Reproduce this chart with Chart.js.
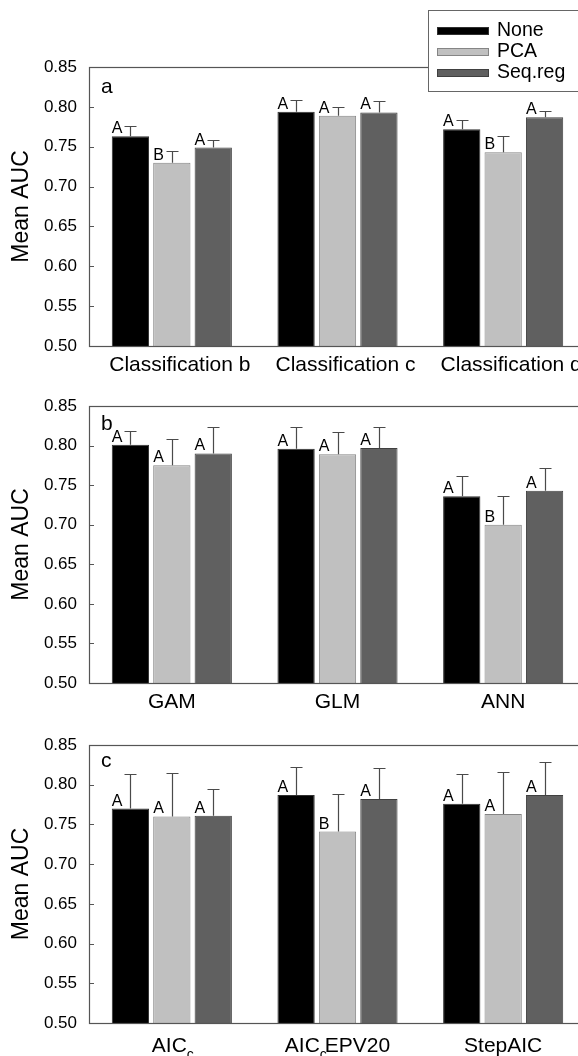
<!DOCTYPE html>
<html>
<head>
<meta charset="utf-8">
<script src="https://cdn.jsdelivr.net/npm/chart.js@4.4.0/dist/chart.umd.min.js"></script>
<style>
html, body { margin: 0; padding: 0; background: #fff; overflow: hidden; width: 578px; height: 1056px; }
canvas { position: absolute; left: 0; }
</style>
</head>
<body>
<canvas id="chartA" width="600" height="382" style="top:0px"></canvas>
<canvas id="chartB" width="600" height="337" style="top:382px"></canvas>
<canvas id="chartC" width="600" height="340" style="top:719px"></canvas>
<script>
var seriesNames = ['None', 'PCA', 'Seq.reg'];
var fillColors = ['#000000', '#c0c0c0', '#606060'];
var edgeColors = ['#303030', '#858585', '#404040'];
var yTicks = [0.50, 0.55, 0.60, 0.65, 0.70, 0.75, 0.80, 0.85];

// panel a
var categoriesA = ['Classification b', 'Classification c', 'Classification d'];
var meanA_none = [0.763, 0.794, 0.772];
var meanA_pca = [0.730, 0.789, 0.743];
var meanA_seq = [0.749, 0.793, 0.787];
var errA_none = [0.776, 0.808, 0.783];
var errA_pca = [0.744, 0.800, 0.763];
var errA_seq = [0.759, 0.807, 0.795];
var lettersA_none = ['A', 'A', 'A'];
var lettersA_pca = ['B', 'A', 'B'];
var lettersA_seq = ['A', 'A', 'A'];

// panel b
var categoriesB = ['GAM', 'GLM', 'ANN'];
var meanB_none = [0.801, 0.796, 0.736];
var meanB_pca = [0.775, 0.789, 0.700];
var meanB_seq = [0.790, 0.797, 0.743];
var errB_none = [0.818, 0.824, 0.761];
var errB_pca = [0.808, 0.817, 0.736];
var errB_seq = [0.823, 0.824, 0.772];
var lettersB_none = ['A', 'A', 'A'];
var lettersB_pca = ['A', 'A', 'B'];
var lettersB_seq = ['A', 'A', 'A'];

// panel c  ("_" marks a subscript letter)
var categoriesC = ['AIC_c', 'AIC_cEPV20', 'StepAIC'];
var meanC_none = [0.770, 0.787, 0.776];
var meanC_pca = [0.760, 0.741, 0.763];
var meanC_seq = [0.761, 0.782, 0.787];
var errC_none = [0.814, 0.822, 0.813];
var errC_pca = [0.815, 0.788, 0.816];
var errC_seq = [0.794, 0.821, 0.829];
var lettersC_none = ['A', 'A', 'A'];
var lettersC_pca = ['A', 'B', 'A'];
var lettersC_seq = ['A', 'A', 'A'];

var FONT = '"Liberation Sans", Arial, Helvetica, sans-serif';
Chart.defaults.font.family = FONT;
Chart.defaults.color = '#000';

var extrasPlugin = {
    id: 'extras',
    afterDatasetsDraw: function (chart, args, opts) {
        var ctx = chart.ctx;
        var area = chart.chartArea;
        var y = chart.scales.y;
        var x = chart.scales.x;
        ctx.save();

        // error bars + letters
        chart.data.datasets.forEach(function (ds, i) {
            var meta = chart.getDatasetMeta(i);
            meta.data.forEach(function (bar, j) {
                var top = Math.round(y.getPixelForValue(ds.errTop[j])) + 0.5;
                var bx = Math.round(bar.x) + 0.5;
                ctx.strokeStyle = '#4a4a4a';
                ctx.lineWidth = 1.2;
                ctx.beginPath();
                ctx.moveTo(bx, bar.y);
                ctx.lineTo(bx, top);
                ctx.moveTo(bx - 6, top);
                ctx.lineTo(bx + 6, top);
                ctx.stroke();

                ctx.fillStyle = '#000';
                ctx.font = '16px ' + FONT;
                ctx.textAlign = 'left';
                ctx.textBaseline = 'alphabetic';
                ctx.fillText(ds.letters[j], bar.x - bar.width / 2, bar.y - 3);
            });
        });

        // frame
        ctx.strokeStyle = '#555';
        ctx.lineWidth = 1.2;
        ctx.strokeRect(Math.round(area.left) + 0.5, Math.round(area.top) + 0.5,
            Math.round(area.right - area.left), Math.round(area.bottom - area.top));

        // inward ticks
        ctx.lineWidth = 1;
        ctx.beginPath();
        y.ticks.forEach(function (t) {
            var py = Math.round(y.getPixelForValue(t.value)) + 0.5;
            ctx.moveTo(area.left, py);
            ctx.lineTo(area.left + 5, py);
        });
        ctx.stroke();

        // panel letter
        ctx.fillStyle = '#000';
        ctx.font = '21px ' + FONT;
        ctx.textAlign = 'left';
        ctx.textBaseline = 'alphabetic';
        ctx.fillText(opts.panel, area.left + 12, area.top + opts.panelDy);

        // category labels with subscripts
        if (opts.subLabels) {
            chart.data.labels.forEach(function (lab, j) {
                var parts = [];
                var k = 0;
                while (k < lab.length) {
                    if (lab[k] === '_') {
                        parts.push({ t: lab[k + 1], sub: true });
                        k += 2;
                    } else {
                        var s = '';
                        while (k < lab.length && lab[k] !== '_') { s += lab[k]; k++; }
                        parts.push({ t: s, sub: false });
                    }
                }
                var total = 0;
                parts.forEach(function (p) {
                    ctx.font = (p.sub ? '14px ' : '21px ') + FONT;
                    p.w = ctx.measureText(p.t).width - (p.sub ? 2 : 0);
                    total += p.w;
                });
                var cx = x.getPixelForValue(j) - total / 2;
                var base = area.bottom + 29;
                parts.forEach(function (p) {
                    ctx.font = (p.sub ? '14px ' : '21px ') + FONT;
                    ctx.fillText(p.t, cx, p.sub ? base + 7 : base);
                    cx += p.w;
                });
            });
        }

        // legend
        if (opts.legend) {
            var lx = 428, ly = 10;
            ctx.fillStyle = '#fff';
            ctx.fillRect(lx, ly, 200, 81);
            ctx.strokeStyle = '#666';
            ctx.lineWidth = 1;
            ctx.strokeRect(lx + 0.5, ly + 0.5, 200, 81);
            chart.data.datasets.forEach(function (ds, i) {
                var cy = ly + 21 + i * 21;
                ctx.fillStyle = ds.backgroundColor;
                ctx.fillRect(437, cy - 4, 52, 8);
                ctx.strokeStyle = ds.borderColor;
                ctx.strokeRect(437.5, cy - 3.5, 51, 7);
                ctx.fillStyle = '#000';
                ctx.font = '19.5px ' + FONT;
                ctx.textBaseline = 'middle';
                ctx.fillText(ds.label, 497, cy);
            });
        }
        ctx.restore();
    }
};

function makeChart(id, categories, means, errs, letters, extras) {
    var datasets = seriesNames.map(function (name, i) {
        return {
            label: name,
            data: means[i],
            errTop: errs[i],
            letters: letters[i],
            backgroundColor: fillColors[i],
            borderColor: edgeColors[i],
            borderWidth: 1,
            categoryPercentage: 0.75,
            barPercentage: 0.9
        };
    });
    return new Chart(document.getElementById(id), {
        type: 'bar',
        data: { labels: categories, datasets: datasets },
        plugins: [extrasPlugin],
        options: {
            responsive: false,
            animation: false,
            events: [],
            layout: { padding: { top: extras.padTop, right: 14, left: 0, bottom: 0 } },
            plugins: {
                legend: { display: false },
                tooltip: { enabled: false },
                extras: extras
            },
            scales: {
                x: {
                    grid: { display: false, drawTicks: false },
                    border: { display: false },
                    ticks: {
                        display: !extras.subLabels,
                        font: { size: 21 },
                        padding: 7,
                        labelOffset: extras.labelOffset,
                        maxRotation: 0,
                        autoSkip: false
                    },
                    afterFit: function (s) { s.height = 36; }
                },
                y: {
                    min: 0.5,
                    max: 0.85,
                    afterBuildTicks: function (s) {
                        s.ticks = yTicks.map(function (v) { return { value: v }; });
                    },
                    grid: { display: false, drawTicks: false },
                    border: { display: false },
                    ticks: {
                        font: { size: 17 },
                        padding: 12,
                        callback: function (v) { return Number(v).toFixed(2); }
                    },
                    title: {
                        display: true,
                        text: 'Mean AUC',
                        font: { size: 23 },
                        padding: { top: 8, bottom: 0 }
                    },
                    afterFit: function (s) { s.width = 89; }
                }
            }
        }
    });
}

makeChart('chartA', categoriesA,
    [meanA_none, meanA_pca, meanA_seq],
    [errA_none, errA_pca, errA_seq],
    [lettersA_none, lettersA_pca, lettersA_seq],
    { panel: 'a', panelDy: 26, padTop: 67, labelOffset: 8, legend: true });

makeChart('chartB', categoriesB,
    [meanB_none, meanB_pca, meanB_seq],
    [errB_none, errB_pca, errB_seq],
    [lettersB_none, lettersB_pca, lettersB_seq],
    { panel: 'b', panelDy: 24, padTop: 24, labelOffset: 0 });

makeChart('chartC', categoriesC,
    [meanC_none, meanC_pca, meanC_seq],
    [errC_none, errC_pca, errC_seq],
    [lettersC_none, lettersC_pca, lettersC_seq],
    { panel: 'c', panelDy: 22, padTop: 26, labelOffset: 0, subLabels: true });
</script>
</body>
</html>
